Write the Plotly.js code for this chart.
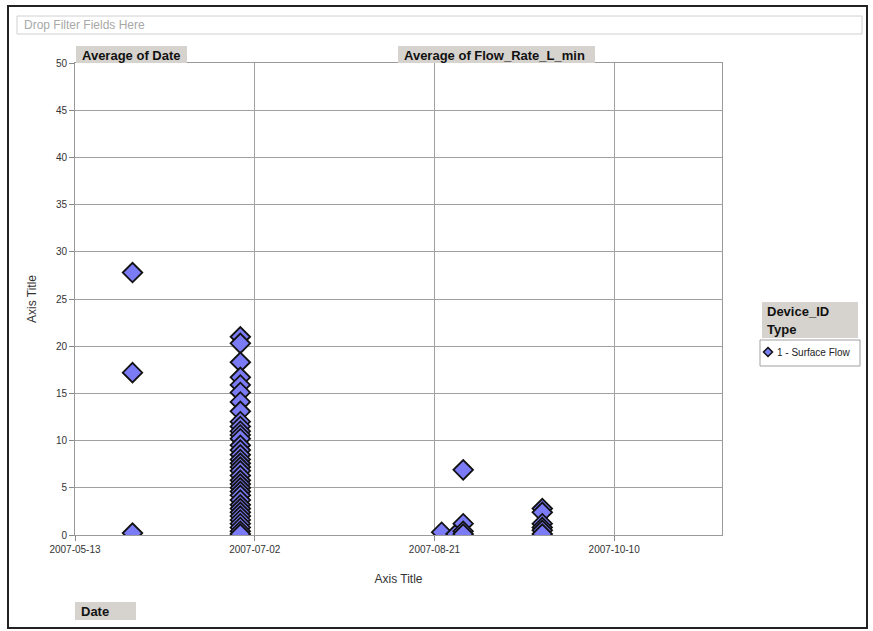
<!DOCTYPE html>
<html>
<head>
<meta charset="utf-8">
<script src="https://cdn.plot.ly/plotly-3.0.1.min.js"></script>
<style>html,body{margin:0;padding:0;background:#fff;}#chart{width:873px;height:631px;}</style>
</head>
<body>
<div id="chart"></div>
<script>
// ---- data ----
const dateMay = "2007-05-29";
const valuesMay = [27.8, 17.2, 0.2];

const dateJun = "2007-06-28";
const valuesJun = [21.0, 20.3, 18.3, 16.7, 15.9, 15.1, 14.1, 13.1, 12.0, 11.5, 11.0, 10.6, 10.2,
  9.5, 9.0, 8.5, 8.0, 7.6, 7.2, 6.8, 6.3, 5.8, 5.4, 5.0, 4.6, 4.2, 3.7, 3.2, 2.8, 2.4, 2.0,
  1.6, 1.2, 0.8, 0.4, 0.1];

const dateAug1 = "2007-08-23";
const valuesAug1 = [0.3];
const dateAug2 = "2007-08-27";
const valuesAug2 = [0.1];
const dateAug3 = "2007-08-29";
const valuesAug3 = [6.9, 1.2, 0.4, 0.1];

const dateSep = "2007-09-20";
const valuesSep = [2.8, 2.4, 1.2, 0.8, 0.5, 0.1];

const seriesName = "1 - Surface Flow";
const xTickStart = "2007-05-13";
const xRange = ["2007-05-13", "2007-11-09"];

// build point lists
const groups = [[dateMay, valuesMay], [dateJun, valuesJun], [dateAug1, valuesAug1],
  [dateAug2, valuesAug2], [dateAug3, valuesAug3], [dateSep, valuesSep]];
const xs = [], ys = [];
groups.forEach(([d, vals]) => vals.forEach(v => { xs.push(d); ys.push(v); }));

// ---- layout helpers (pixel -> paper) ----
const L = 75, R = 722, T = 63, B = 535;
const px = p => (p - L) / (R - L);
const py = p => (B - p) / (B - T);

function box(x0, y0, x1, y1, fill, line, lw) {
  return {type: 'rect', xref: 'paper', yref: 'paper', x0: px(x0), x1: px(x1), y0: py(y1), y1: py(y0),
    fillcolor: fill, line: {color: line, width: lw}, layer: 'above'};
}
function label(x, y, text, size, color, bold, anchor) {
  return {xref: 'paper', yref: 'paper', x: px(x), y: py(y), text: bold ? '<b>' + text + '</b>' : text,
    showarrow: false, xanchor: anchor || 'left', yanchor: 'middle',
    font: {family: 'Liberation Sans, Arial, sans-serif', size: size, color: color}};
}
function diamondSymbol(cx, cy, h) {
  const p = [[cx, cy - h], [cx + h, cy], [cx, cy + h], [cx - h, cy]]
    .map(([a, b]) => px(a) + ',' + py(b));
  return {type: 'path', xref: 'paper', yref: 'paper', path: 'M' + p.join('L') + 'Z',
    fillcolor: '#7b7bf5', line: {color: '#111', width: 1.5}, layer: 'above'};
}

const shapes = [
  box(8, 6, 867, 628, 'rgba(0,0,0,0)', '#222', 2),
  box(17, 16, 862, 34, 'rgba(0,0,0,0)', '#d0d0d0', 1),
  box(76, 46, 187, 63, '#d6d3ce', '#d6d3ce', 0),
  box(398, 46, 595, 63, '#d6d3ce', '#d6d3ce', 0),
  box(75, 602, 136, 620, '#d6d3ce', '#d6d3ce', 0),
  box(762, 302, 858, 320, '#d6d3ce', '#d6d3ce', 0),
  box(762, 320, 858, 338, '#d6d3ce', '#d6d3ce', 0),
  box(760, 340, 860, 366, '#ffffff', '#a0a0a0', 1),
  diamondSymbol(768, 352, 4.5)
];
const annotations = [
  label(22, 25, 'Drop Filter Fields Here', 12, '#a8a8a8', false),
  label(80, 55, 'Average of Date', 13, '#111', true),
  label(402, 55, 'Average of Flow_Rate_L_min', 13, '#111', true),
  label(79, 611, 'Date', 13, '#111', true),
  label(765, 311, 'Device_ID', 13, '#111', true),
  label(765, 329, 'Type', 13, '#111', true),
  label(775, 352, seriesName, 10, '#222', false)
];

const trace = {
  type: 'scatter', mode: 'markers', x: xs, y: ys, name: seriesName,
  marker: {symbol: 'diamond', size: 15, color: '#7b7bf5', line: {color: '#111', width: 1.8}},
  showlegend: false
};

const layout = {
  width: 873, height: 631,
  margin: {l: L, r: 873 - R, t: T, b: 631 - B, autoexpand: false},
  paper_bgcolor: '#fff', plot_bgcolor: '#fff',
  font: {family: 'Liberation Sans, Arial, sans-serif', size: 10, color: '#333'},
  showlegend: false,
  xaxis: {
    type: 'date', range: xRange, tick0: xTickStart, dtick: 50 * 86400000,
    tickformat: '%Y-%m-%d', showgrid: true, gridcolor: '#a0a0a0', gridwidth: 1,
    ticks: 'outside', ticklen: 5, tickcolor: '#888', zeroline: false,
    showline: true, linecolor: '#9a9a9a', mirror: true,
    tickfont: {size: 10, color: '#333'},
    title: {text: 'Axis Title', font: {size: 12, color: '#333'}, standoff: 20}
  },
  yaxis: {
    range: [0, 50], dtick: 5, showgrid: true, gridcolor: '#a0a0a0', gridwidth: 1,
    ticks: 'outside', ticklen: 5, tickcolor: '#888', zeroline: false,
    showline: true, linecolor: '#9a9a9a', mirror: true,
    tickfont: {size: 10, color: '#333'},
    title: {text: 'Axis Title', font: {size: 12, color: '#333'}, standoff: 16}
  },
  shapes: shapes, annotations: annotations
};

Plotly.newPlot('chart', [trace], layout, {displayModeBar: false, staticPlot: true});
</script>
</body>
</html>
